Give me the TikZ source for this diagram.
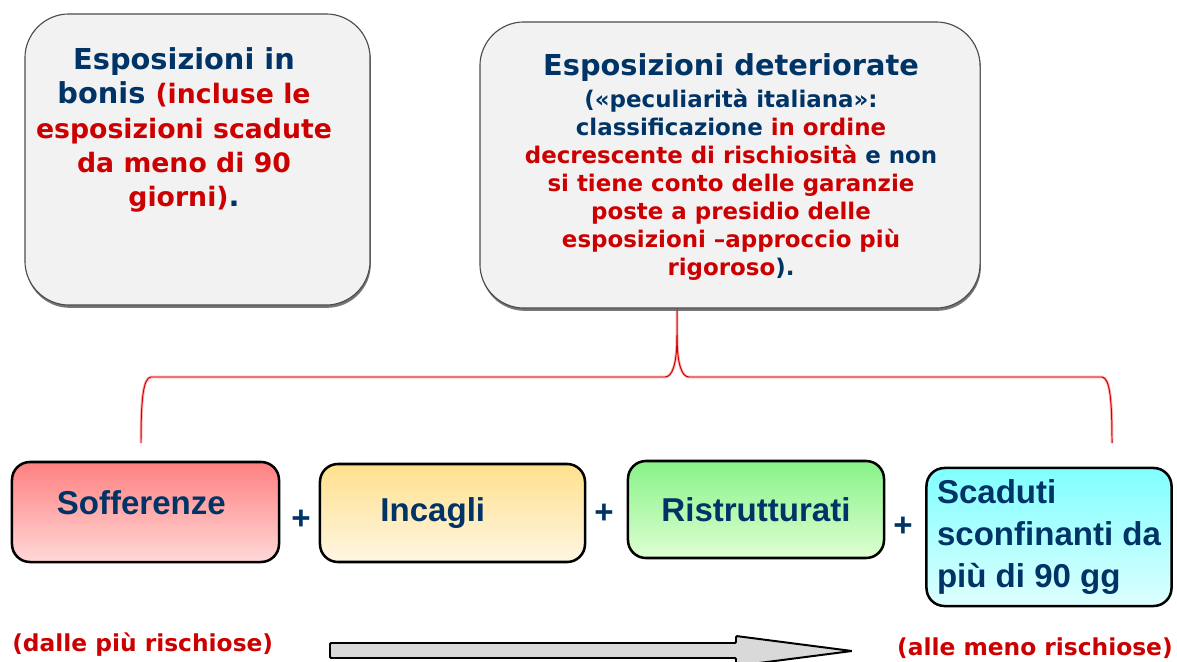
\documentclass[tikz,border=0pt]{standalone}
\usepackage{fontspec}
\setmainfont{DejaVu Sans}
\newfontfamily\arialfont{Liberation Sans}
\usepackage{tikz}
\usetikzlibrary{shadows}

\definecolor{darkblue}{RGB}{0,51,102}
\definecolor{darkred}{RGB}{204,0,0}
\newcommand\bonisred[1]{{\color{darkred}\fontsize{19}{24.5}\selectfont #1}}

\begin{document}
\begin{tikzpicture}[
  x=0.025cm, y=-0.025cm,
  every node/.style={inner sep=0pt},
  bigbox/.style={draw=black!70, line width=0.8pt, rounded corners=1.1cm, fill=gray!10,
    drop shadow={shadow xshift=0.6pt, shadow yshift=-2pt, fill=black!60, opacity=0.9}},
  bigtxt/.style={align=center, anchor=north, text=darkblue, font=\bfseries\fontsize{20.5}{24.5}\selectfont},
  riskbox/.style={draw=black, line width=1.8pt, rounded corners=0.45cm, shading angle=65,
    text=darkblue, font=\arialfont\bfseries\fontsize{23.5}{30}\selectfont},
  plus/.style={text=darkblue, font=\arialfont\bfseries\fontsize{23.5}{28}\selectfont},
  note/.style={text=darkred, font=\bfseries\fontsize{16.6}{20}\selectfont},
  bracket/.style={draw=darkred, line width=0.7pt},
]
  \useasboundingbox (0,0) rectangle (1177,662);

  % bracket under the deteriorated box
  \coordinate (brL) at (141,443);
  \coordinate (brR) at (1112,443);
  \coordinate (brT) at (677,308);
  \draw[red!30, line width=2pt] (brL) .. controls (141,400) and (143,378) .. (151,377) -- (665,377)
    .. controls (672,377) and (677,365) .. (677,335) -- (brT);
  \draw[red!30, line width=2pt] (677,335) .. controls (677,365) and (682,377) .. (689,377) -- (1102,377)
    .. controls (1110,378) and (1112,400) .. (brR);
  \draw[bracket] (brL) .. controls (141,400) and (143,378) .. (151,377) -- (665,377)
    .. controls (672,377) and (677,365) .. (677,335) -- (brT);
  \draw[bracket] (677,335) .. controls (677,365) and (682,377) .. (689,377) -- (1102,377)
    .. controls (1110,378) and (1112,400) .. (brR);

  % top boxes
  \node[bigbox, minimum width=8.625cm, minimum height=7.275cm] (bonis) at (197.5,159.5) {};
  \node[bigtxt] (bonis-t) at (184,47)
    {Esposizioni in\\
     bonis \bonisred{(incluse le}\\
     \bonisred{esposizioni scadute}\\
     \bonisred{da meno di 90}\\
     \bonisred{giorni)}.};

  \node[bigbox, minimum width=12.5cm, minimum height=7.15cm] (deter) at (730,165) {};
  \node[bigtxt, font=\bfseries\fontsize{16.3}{20}\selectfont] (deter-t) at (731,53)
    {{\fontsize{20.5}{20}\selectfont Esposizioni deteriorate}\\[2.8pt]
     («peculiarità italiana»:\\
     classificazione \textcolor{darkred}{in ordine}\\
     \textcolor{darkred}{decrescente di rischiosità} e non\\
     \textcolor{darkred}{si tiene conto delle garanzie}\\
     \textcolor{darkred}{poste a presidio delle}\\
     \textcolor{darkred}{esposizioni –approccio più}\\
     \textcolor{darkred}{rigoroso}).};

  % risk classes
  \node[riskbox, top color={rgb,255:red,255;green,128;blue,128}, bottom color={rgb,255:red,255;green,216;blue,216},
    minimum width=6.675cm, minimum height=2.5cm, text depth=14pt] (soff) at (145.5,512) {Sofferenze\hspace*{6pt}};
  \node[riskbox, top color={rgb,255:red,255;green,224;blue,140}, bottom color={rgb,255:red,255;green,246;blue,228},
    minimum width=6.625cm, minimum height=2.45cm] (inca) at (452.5,513) {Incagli\hspace*{28pt}};
  \node[riskbox, top color={rgb,255:red,136;green,242;blue,136}, bottom color={rgb,255:red,222;green,255;blue,210},
    minimum width=6.4cm, minimum height=2.425cm] (rist) at (756,509.5) {Ristrutturati};
  \node[riskbox, top color={rgb,255:red,128;green,255;blue,255}, bottom color={rgb,255:red,222;green,255;blue,255},
    minimum width=6.125cm, minimum height=3.45cm, align=left] (scad) at (1049,537)
    {Scaduti\\ sconfinanti da\\ più di 90 gg};

  \node[plus] (plus1) at (301,520) {+};
  \node[plus] (plus2) at (604,514) {+};
  \node[plus] (plus3) at (903,527) {+};

  % direction of risk
  \draw[fill=gray!30, line width=1.4pt, rounded corners=0.8pt]
    (330,643) -- (736,643) -- (736,636) -- (852,651) -- (736,666) -- (736,658) -- (330,658) -- cycle;
  \node[note, anchor=west] (fromlbl) at (12,645) {(dalle più rischiose)};
  \node[note, anchor=east] (tolbl) at (1173,648) {(alle meno rischiose)};
\end{tikzpicture}
\end{document}
